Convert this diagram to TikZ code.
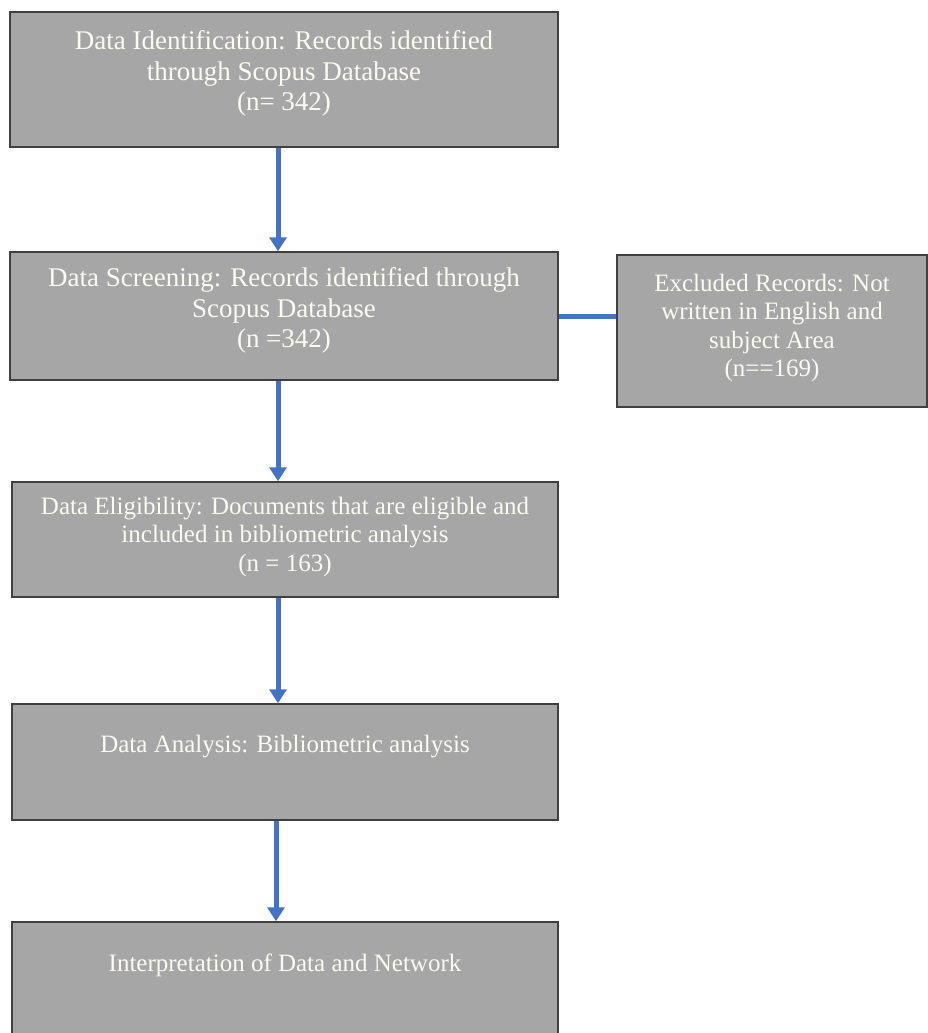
\documentclass[tikz,border=0pt]{standalone}
\usepackage{fontspec}
\setmainfont{Liberation Serif}
\usetikzlibrary{arrows.meta}
\definecolor{boxgray}{HTML}{A6A6A6}
\definecolor{boxedge}{HTML}{404040}
\definecolor{txtwhite}{HTML}{FBFBF2}
\definecolor{arrblue}{HTML}{4472C4}
\begin{document}
\begin{tikzpicture}[x=1pt,y=-1pt,
  box/.style={draw=boxedge,fill=boxgray,line width=1.5pt,rectangle,inner sep=0pt},
  bigtxt/.style={text=txtwhite,align=center,anchor=north,inner sep=0pt,font=\fontsize{27}{30.5}\selectfont},
  smalltxt/.style={text=txtwhite,align=center,anchor=north,inner sep=0pt,font=\fontsize{25}{28.5}\selectfont},
  arr/.style={draw=arrblue,line width=5pt,-{Triangle[width=17pt,length=14pt]}},
  conn/.style={draw=arrblue,line width=5pt}]
\useasboundingbox (0,0) rectangle (928,1033);
% boxes
\node[box,minimum width=548,minimum height=135] (b1) at (284,79.5) {};
\node[box,minimum width=548,minimum height=128] (b2) at (284,316) {};
\node[box,minimum width=310,minimum height=152] (b3) at (772,331) {};
\node[box,minimum width=546,minimum height=115] (b4) at (285,539.5) {};
\node[box,minimum width=546,minimum height=116] (b5) at (285,762) {};
\node[box,minimum width=546,minimum height=120] (b6) at (285,982) {};
% texts
\node[bigtxt] (t1) at (284,30.5) {Data Identification: Records identified\\through Scopus Database\\(n= 342)};
\node[bigtxt] (t2) at (284,267.5) {Data Screening: Records identified through\\Scopus Database\\(n =342)};
\node[smalltxt] (t3) at (772,273.5) {Excluded Records: Not\\written in English and\\subject Area\\(n==169)};
\node[smalltxt] (t4) at (285,496.5) {Data Eligibility: Documents that are eligible and\\included in bibliometric analysis\\(n = 163)};
\node[smalltxt] (t5) at (285,734.5) {Data Analysis: Bibliometric analysis};
\node[smalltxt] (t6) at (285,953.5) {Interpretation of Data and Network};
% connectors
\draw[arr] ([xshift=-6]b1.south) -- ([xshift=-6]b1.south |- b2.north);
\draw[arr] ([xshift=-6]b2.south) -- ([xshift=-6]b2.south |- b4.north);
\draw[arr] ([xshift=-7]b4.south) -- ([xshift=-7]b4.south |- b5.north);
\draw[arr] ([xshift=-9]b5.south) -- ([xshift=-9]b5.south |- b6.north);
\draw[conn] (b2.east) -- (b2.east -| b3.west);
\end{tikzpicture}
\end{document}
